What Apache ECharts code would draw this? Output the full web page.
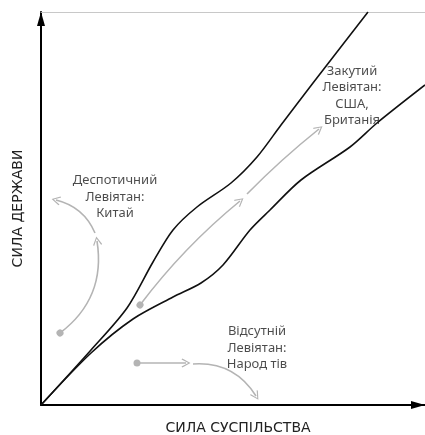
<!DOCTYPE html>
<html>
<head>
<meta charset="utf-8">
<script src="https://cdn.jsdelivr.net/npm/echarts@6/dist/echarts.min.js"></script>
<style>
  html, body { margin: 0; padding: 0; background: #fff; }
  #chart { width: 425px; height: 435px; }
</style>
</head>
<body>
<div id="chart"></div>
<script>
// межі коридору (x = сила суспільства, y = сила держави)
const upperX = [0, 50, 86, 112, 132, 156, 190, 216, 240, 272, 327]
const upperY = [0, 55, 97, 143, 175, 198, 222, 248, 280, 322, 393]
const lowerX = [0, 50, 92, 132, 160, 182, 209, 229, 260, 309, 336, 384]
const lowerY = [0, 52, 86, 108, 122, 140, 175, 195, 225, 258, 282, 320]

// сірі стрілки: початок, кінець, кривизна, чи є крапка на початку
const arrowFrom = [[19, 72], [54, 172], [99, 100], [206, 211], [96, 42], [152, 41]]
const arrowTo = [[56, 164], [15, 205], [199, 204], [278, 276], [145, 42], [215, 9]]
const arrowCurve = [-0.3, -0.25, 0.06, 0.03, 0, 0.3]
const arrowDot = [true, false, true, false, true, false]

// підписи
const labelNames = [
  'Деспотичний\nЛевіятан:\nКитай',
  'Закутий\nЛевіятан:\nСША,\nБританія',
  'Відсутній\nЛевіятан:\nНарод тів'
]
const labelX = [74, 311, 216]
const labelY = [208, 309, 57]

const xName = 'СИЛА СУСПІЛЬСТВА'
const yName = 'СИЛА ДЕРЖАВИ'

const chart = echarts.init(document.getElementById('chart'))

const chevron = 'path://M5,0 L10,9 L9,10 L5,2.5 L1,10 L0,9 Z'
const gray = '#b4b4b4'

const arrowData = arrowFrom.map((from, i) => ({
  coords: [from, arrowTo[i]],
  symbol: [arrowDot[i] ? 'circle' : 'none', chevron],
  symbolSize: [arrowDot[i] ? 7 : 0, 9],
  lineStyle: { curveness: arrowCurve[i] }
}))

const option = {
  animation: false,
  grid: { left: 41, right: 0, top: 12, bottom: 30, outerBoundsMode: 'none' },
  xAxis: [{
    type: 'value',
    min: 0,
    max: 384,
    name: xName,
    nameLocation: 'middle',
    nameGap: 16,
    nameTextStyle: { fontFamily: 'DejaVu Sans', fontSize: 14, color: '#222', padding: [0, 0, 0, 10] },
    axisLine: {
      onZero: false,
      lineStyle: { color: '#000', width: 2 },
      symbol: ['none', 'triangle'],
      symbolSize: [8, 14],
      symbolOffset: [0, -7]
    },
    axisTick: { show: false },
    axisLabel: { show: false },
    splitLine: { show: false }
  }, {
    type: 'value',
    position: 'top',
    min: 0,
    max: 384,
    axisLine: { show: true, onZero: false, lineStyle: { color: '#c8c8c8', width: 1 } },
    axisTick: { show: false },
    axisLabel: { show: false },
    splitLine: { show: false }
  }],
  yAxis: {
    type: 'value',
    min: 0,
    max: 393,
    name: yName,
    nameLocation: 'middle',
    nameGap: 16,
    nameTextStyle: { fontFamily: 'DejaVu Sans', fontSize: 14, color: '#222' },
    axisLine: {
      show: true,
      onZero: false,
      lineStyle: { color: '#000', width: 2 },
      symbol: ['none', 'triangle'],
      symbolSize: [8, 14],
      symbolOffset: [0, -7]
    },
    axisTick: { show: false },
    axisLabel: { show: false },
    splitLine: { show: false }
  },
  series: [
    {
      type: 'line',
      data: upperX.map((x, i) => [x, upperY[i]]),
      smooth: 0.3,
      showSymbol: false,
      lineStyle: { color: '#111', width: 1.6 }
    },
    {
      type: 'line',
      data: lowerX.map((x, i) => [x, lowerY[i]]),
      smooth: 0.3,
      showSymbol: false,
      lineStyle: { color: '#111', width: 1.6 }
    },
    {
      type: 'lines',
      coordinateSystem: 'cartesian2d',
      data: arrowData,
      lineStyle: { color: gray, width: 1.6, opacity: 1 },
      itemStyle: { color: gray }
    },
    {
      type: 'scatter',
      symbolSize: 1,
      itemStyle: { color: 'rgba(0,0,0,0)' },
      data: labelNames.map((n, i) => ({ name: n, value: [labelX[i], labelY[i]] })),
      label: {
        show: true,
        position: 'inside',
        formatter: '{b}',
        fontFamily: 'Noto Sans',
        fontSize: 13,
        lineHeight: 16.5,
        color: '#1e1e1e',
        align: 'center',
        verticalAlign: 'middle'
      }
    }
  ]
}

chart.setOption(option)
</script>
</body>
</html>
